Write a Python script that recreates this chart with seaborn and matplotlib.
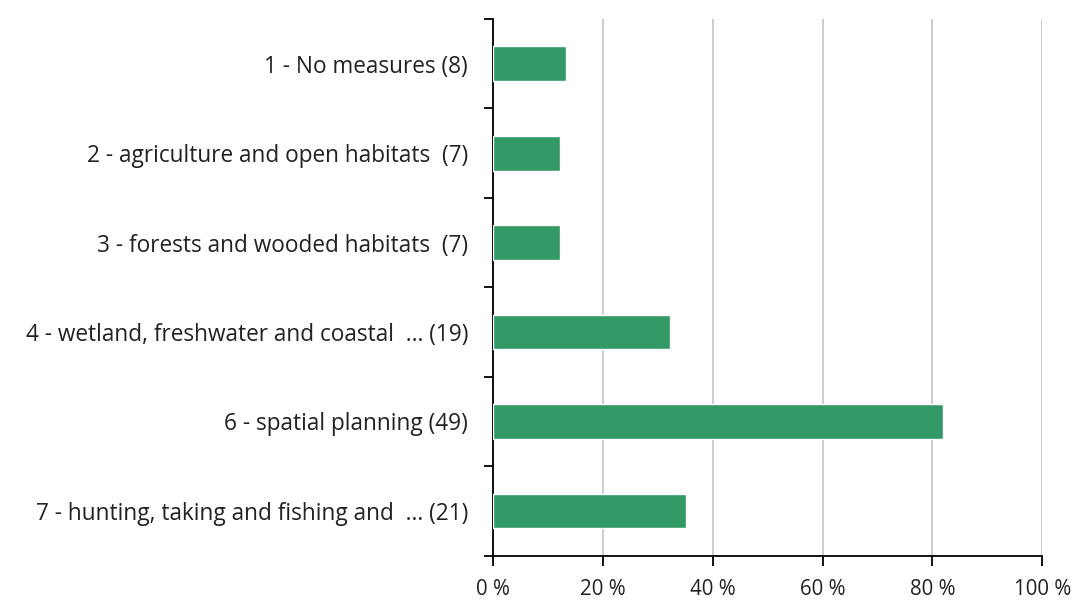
import matplotlib
matplotlib.use("Agg")
import matplotlib.pyplot as plt
import seaborn as sns
import pandas as pd
from matplotlib.ticker import FixedLocator

categories = [
    "1 - No measures (8)",
    "2 - agriculture and open habitats  (7)",
    "3 - forests and wooded habitats  (7)",
    "4 - wetland, freshwater and coastal  ... (19)",
    "6 - spatial planning (49)",
    "7 - hunting, taking and fishing and  ... (21)",
]
values = [13.3, 12.2, 12.2, 32.2, 82.0, 35.1]
xticks = [0, 20, 40, 60, 80, 100]
xticklabels = ["0 %", "20 %", "40 %", "60 %", "80 %", "100 %"]

sns.set_theme(style="white")
plt.rcParams["font.family"] = ["Open Sans", "DejaVu Sans"]

df = pd.DataFrame({"cat": categories, "val": values})

fig = plt.figure(figsize=(10.77, 6.03), dpi=100)
ax = fig.add_axes([0.4578, 0.0785, 0.51, 0.89])

sns.barplot(data=df, x="val", y="cat", orient="h", color="#339966",
            saturation=1, width=0.39, ax=ax, zorder=3)

ax.set_xlim(0, 100)
ax.set_ylim(len(categories) - 0.5, -0.5)
ax.set_xticks(xticks)
ax.set_xticklabels(xticklabels, fontsize=14.8, color="#222222")
ax.set_xlabel("")
ax.set_ylabel("")
ax.grid(axis="x", color="#c8c8c8", linewidth=1.3, zorder=0)
ax.set_axisbelow(True)

ax.set_yticks(range(len(categories)))
ax.set_yticklabels(categories, fontsize=16.3, color="#222222")
ax.tick_params(axis="y", which="major", length=0, pad=18)
ax.yaxis.set_minor_locator(FixedLocator([i - 0.5 for i in range(len(categories) + 1)]))
ax.tick_params(axis="y", which="minor", length=6.5, width=1.3, color="black", left=True)
ax.tick_params(axis="x", which="major", length=7, width=1.3, color="black",
               bottom=True, pad=10)

for s in ["top", "right"]:
    ax.spines[s].set_visible(False)
for s in ["left", "bottom"]:
    ax.spines[s].set_color("black")
    ax.spines[s].set_linewidth(1.3)

fig.savefig("out.png", dpi=100, facecolor="white")
